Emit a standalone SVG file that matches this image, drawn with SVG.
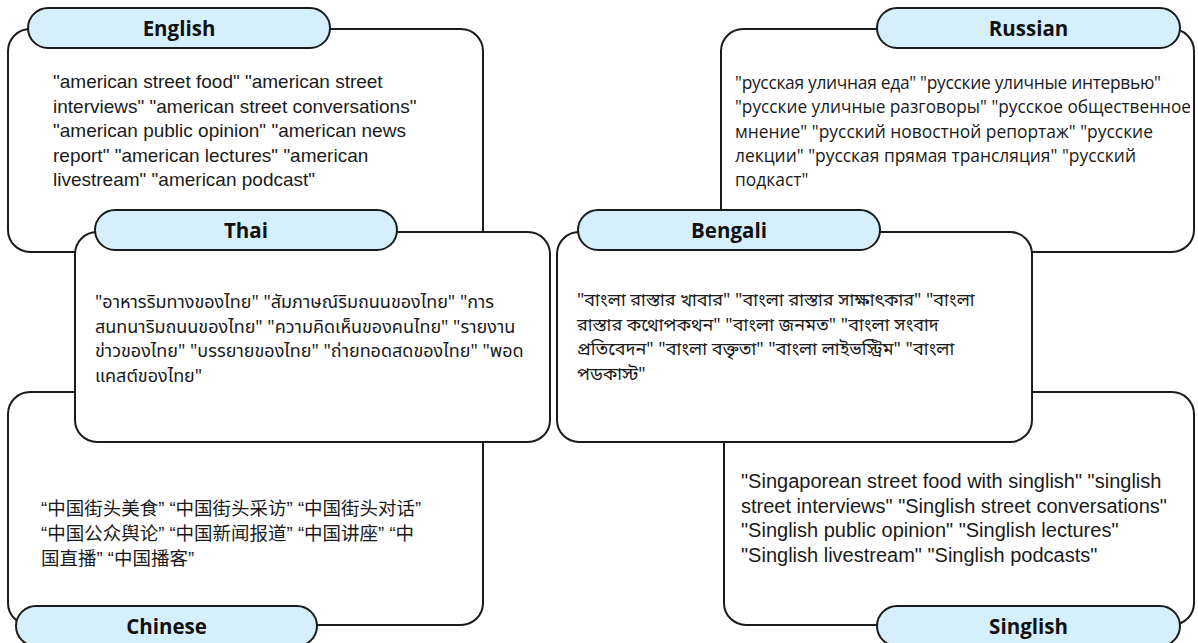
<svg xmlns="http://www.w3.org/2000/svg" width="1198" height="643" viewBox="0 0 1198 643">
<style>
.box{fill:#ffffff;stroke:#1b1b1b;stroke-width:2}
.pill{fill:#d5effc;stroke:#1b1b1b;stroke-width:2}
.hd{font-family:"Open Sans","Noto Sans",sans-serif;font-weight:700;font-size:20.5px;fill:#111;text-anchor:middle}
.en{font-family:"Liberation Sans",Arial,sans-serif;font-size:19px;fill:#1a1a1a}
.sg{font-family:"Liberation Sans",Arial,sans-serif;font-size:20px;fill:#1a1a1a}
.ru{font-family:"Open Sans","Noto Sans",sans-serif;font-size:17.4px;fill:#1a1a1a}
.th{font-family:"Noto Sans Thai","Noto Sans",sans-serif;font-size:18px;fill:#1a1a1a}
.bn{font-family:"Noto Sans Bengali","Noto Sans",sans-serif;font-size:18px;fill:#1a1a1a}
.zh{font-family:"Liberation Sans","Noto Sans CJK SC",sans-serif;font-size:18.5px;fill:#1a1a1a}
</style>
<rect width="1198" height="643" fill="#ffffff"/>
<g id="connectors"/>
<g id="english">
<rect class="box" x="8" y="29" width="475" height="223" rx="22"/>
<rect class="pill" x="28" y="8" width="302" height="40" rx="20"/>
<text class="hd" x="179" y="35.5">English</text>
<text class="en" x="53" y="88">"american street food" "american street</text>
<text class="en" x="53" y="112.5">interviews" "american street conversations"</text>
<text class="en" x="53" y="137">"american public opinion" "american news</text>
<text class="en" x="53" y="161.5">report" "american lectures" "american</text>
<text class="en" x="53" y="186">livestream" "american podcast"</text>
</g>
<g id="russian">
<rect class="box" x="721" y="29" width="473" height="223" rx="22"/>
<rect class="pill" x="877" y="8" width="303" height="40" rx="20"/>
<text class="hd" x="1028.5" y="35.5">Russian</text>
<text class="ru" x="735" y="89" textLength="426" lengthAdjust="spacing">"русская уличная еда" "русские уличные интервью"</text>
<text class="ru" x="735" y="113" textLength="456" lengthAdjust="spacingAndGlyphs">"русские уличные разговоры" "русское общественное</text>
<text class="ru" x="735" y="137.5">мнение" "русский новостной репортаж" "русские</text>
<text class="ru" x="735" y="162">лекции" "русская прямая трансляция" "русский</text>
<text class="ru" x="735" y="186">подкаст"</text>
</g>
<g id="chinese">
<rect class="box" x="8" y="392" width="475" height="233" rx="22"/>
<rect class="pill" x="16" y="606" width="301" height="40" rx="20"/>
<text class="hd" x="166.5" y="633.5">Chinese</text>
<text class="zh" x="41" y="515">“中国街头美食” “中国街头采访” “中国街头对话”</text>
<text class="zh" x="41" y="540">“中国公众舆论” “中国新闻报道” “中国讲座” “中</text>
<text class="zh" x="41" y="565">国直播” “中国播客”</text>
</g>
<g id="singlish">
<rect class="box" x="724" y="392" width="470" height="233" rx="22"/>
<rect class="pill" x="877" y="606" width="303" height="40" rx="20"/>
<text class="hd" x="1028.5" y="633.5">Singlish</text>
<text class="sg" x="741" y="488">"Singaporean street food with singlish" "singlish</text>
<text class="sg" x="741" y="513">street interviews" "Singlish street conversations"</text>
<text class="sg" x="741" y="537">"Singlish public opinion" "Singlish lectures"</text>
<text class="sg" x="741" y="562">"Singlish livestream" "Singlish podcasts"</text>
</g>
<g id="thai">
<rect class="box" x="75" y="232" width="475" height="210" rx="22"/>
<rect class="pill" x="95" y="210" width="302" height="40" rx="20"/>
<text class="hd" x="246" y="237.5">Thai</text>
<text class="th" x="95" y="308">"อาหารริมทางของไทย" "สัมภาษณ์ริมถนนของไทย" "การ</text>
<text class="th" x="95" y="333">สนทนาริมถนนของไทย" "ความคิดเห็นของคนไทย" "รายงาน</text>
<text class="th" x="95" y="357">ข่าวของไทย" "บรรยายของไทย" "ถ่ายทอดสดของไทย" "พอด</text>
<text class="th" x="95" y="382">แคสต์ของไทย"</text>
</g>
<g id="bengali">
<rect class="box" x="557" y="232" width="475" height="210" rx="22"/>
<rect class="pill" x="578" y="210" width="302" height="40" rx="20"/>
<text class="hd" x="729" y="237.5">Bengali</text>
<text class="bn" x="577" y="306">"বাংলা রাস্তার খাবার" "বাংলা রাস্তার সাক্ষাৎকার" "বাংলা</text>
<text class="bn" x="577" y="331">রাস্তার কথোপকথন" "বাংলা জনমত" "বাংলা সংবাদ</text>
<text class="bn" x="577" y="355">প্রতিবেদন" "বাংলা বক্তৃতা" "বাংলা লাইভস্ট্রিম" "বাংলা</text>
<text class="bn" x="577" y="380">পডকাস্ট"</text>
</g>
</svg>
